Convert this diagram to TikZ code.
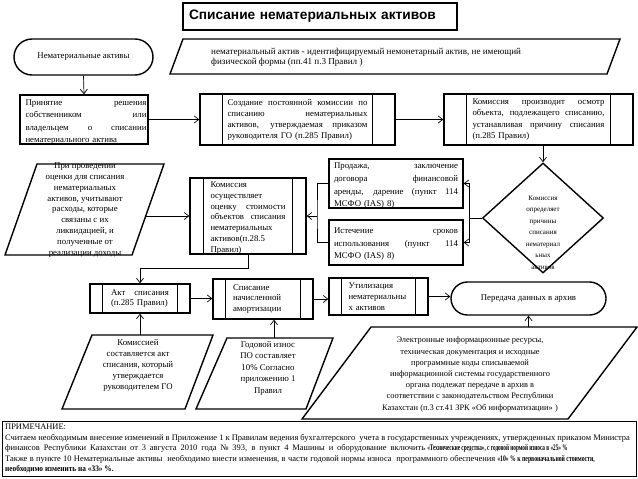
\documentclass[tikz,border=0pt]{standalone}
\usepackage{fontspec}
\setmainfont{Liberation Serif}
\newfontfamily\titlefont{Liberation Sans}
\usetikzlibrary{arrows.meta,shapes.geometric}
\newcommand\jl[2]{{\spaceskip=0pt\xspaceskip=0pt\makebox[#1pt][s]{#2}}}
\newcommand\fs[2]{\fontsize{#1}{#2}\selectfont}
\newcommand\ppl[2]{%
  \draw[boxline] ([xshift=#2]#1.north west) -- ([xshift=#2]#1.south west);
  \draw[boxline] ([xshift=-#2]#1.north east) -- ([xshift=-#2]#1.south east);}
\newcommand\cb[2]{\scalebox{#1}[1]{\textbf{#2}}}
\begin{document}
\begin{tikzpicture}[x=1pt,y=-1pt,
  boxline/.style={line width=1.4pt},
  box/.style={draw, line width=1.4pt, inner sep=0pt, align=left},
  term/.style={draw, line width=1.4pt, inner sep=0pt, rounded corners=#1},
  pline/.style={line width=1.4pt},
  txt/.style={inner sep=0pt},
  arr/.style={line width=0.7pt, -{Straight Barb[length=4.5pt,width=7pt]}},
  conn/.style={line width=0.7pt}]
\useasboundingbox (0,0) rectangle (638,479);

% title
\node[draw, line width=1.6pt, minimum width=274pt, minimum height=27pt, text width=262pt,
  align=left, inner sep=6pt, font=\titlefont\bfseries\fs{13.7}{15}] (title) at (320,16.5)
  {Списание нематериальных активов};

% row 1
\node[term=18pt, minimum width=139pt, minimum height=36pt, font=\fs{8.8}{10}] (na) at (83.5,57)
  {Нематериальные активы};
\draw[pline] (183,39) -- (620,39) -- (607,74) -- (170,74) -- cycle;
\node[txt, anchor=west, align=left, font=\fs{9.1}{10.5}] (def) at (211,57.5)
  {нематериальный актив - идентифицируемый немонетарный актив, не имеющий\\физической формы (пп.41 п.3 Правил )};

% row 2
\node[box, minimum width=128pt, minimum height=49pt] (pr) at (84,119.5) {};
\node[txt, text width=121pt, align=left, font=\fs{8.8}{12.3}] (prt) at ([xshift=2pt,yshift=-2.5pt]pr.center)
  {\jl{121}{Принятие решения}\\\jl{121}{собственником или}\\\jl{121}{владельцем о списании}\\нематериального актива};
\node[box, minimum width=195pt, minimum height=51pt, text width=140pt, font=\fs{8.8}{11}] (cr) at (297.5,119.5)
  {\jl{140}{Создание постоянной комиссии по}\\\jl{140}{списанию нематериальных}\\\jl{140}{активов, утверждаемая приказом}\\руководителя ГО (п.285 Правил)};
\ppl{cr}{23}
\node[box, minimum width=189pt, minimum height=51pt, text width=132pt, font=\fs{8.8}{11.5}] (kp) at (538.5,119.5)
  {\jl{132}{Комиссия производит осмотр}\\\jl{132}{объекта, подлежащего списанию,}\\\jl{132}{устанавливая причину списания}\\(п.285 Правил)};
\ppl{kp}{23}

% row 3
\draw[pline] (37,164) -- (164,164) -- (132,255) -- (5,255) -- cycle;
\node[txt, align=center, font=\fs{8.8}{10.8}] (lp) at (85,210)
  {При проведении\\оценки для списания\\нематериальных\\активов, учитывают\\расходы, которые\\связаны с их\\ликвидацией, и\\полученные от\\реализации доходы};
\coordinate (lpR) at (146,216);
\node[box, minimum width=116pt, minimum height=76pt] (ko) at (248,216) {};
\node[txt, text width=75pt, align=left, font=\fs{8.8}{10.8}] (kot) at ([yshift=-2pt]ko.center)
  {Комиссия\\осуществляет\\\jl{75}{оценку стоимости}\\\jl{75}{объектов списания}\\нематериальных\\активов(п.28.5\\Правил)};
\ppl{ko}{14}
\node[box, minimum width=134pt, minimum height=49pt] (pd) at (396,183.5) {};
\node[txt, text width=124pt, align=left, font=\fs{8.8}{12.7}] (pdt) at ([yshift=-2.5pt]pd.center)
  {\jl{124}{Продажа, заключение}\\\jl{124}{договора финансовой}\\\jl{124}{аренды, дарение (пункт 114}\\МСФО (IAS) 8)};
\node[box, minimum width=134pt, minimum height=45pt] (is) at (396,242.5) {};
\node[txt, text width=124pt, align=left, font=\fs{8.8}{12.5}] (ist) at ([yshift=-2pt]is.center)
  {\jl{124}{Истечение сроков}\\\jl{124}{использования (пункт 114}\\МСФО (IAS) 8)};
\node[diamond, draw, line width=1.4pt, minimum width=121pt, minimum height=110pt, inner sep=0pt] (dia) at (543,218) {};
\node[txt, align=center, font=\fs{7}{11.5}] (diat) at (543,232.5)
  {Комиссия\\определяет\\причины\\списания\\нематериал\\ьных\\активов};

% row 4
\node[box, minimum width=100pt, minimum height=29pt, text width=58pt, font=\fs{8.8}{10}] (ak) at (140,298.5)
  {\jl{58}{Акт списания}\\(п.285 Правил)};
\ppl{ak}{13}
\node[box, minimum width=100pt, minimum height=40pt, text width=60pt, font=\fs{8.8}{10.5}] (sn) at (263,299)
  {Списание\\начисленной\\амортизации};
\ppl{sn}{13}
\node[box, minimum width=99pt, minimum height=37pt, text width=60pt, font=\fs{8.8}{10.8}] (ut) at (378.5,296.5)
  {Утилизация\\нематериальны\\х активов};
\ppl{ut}{13}
\node[term=16.5pt, minimum width=155pt, minimum height=33pt, font=\fs{8.8}{10}] (pa) at (528.5,298.5)
  {Передача данных в архив};

% row 5
\draw[pline] (92,335) -- (213,335) -- (185,409) -- (62,409) -- cycle;
\node[txt, align=center, font=\fs{8.8}{11}] (p1) at (138,365)
  {Комиссией\\составляется акт\\списания, который\\утверждается\\руководителем ГО};
\coordinate (p1t) at (140,335);
\draw[pline] (227,338) -- (333,338) -- (306,409) -- (196,409) -- cycle;
\node[txt, align=center, font=\fs{8.8}{11.5}] (p2) at (268,368)
  {Годовой износ\\ПО составляет\\10\% Согласно\\приложению 1\\Правил};
\coordinate (p2t) at (274,338);
\draw[pline] (371,327) -- (637,327) -- (568,419) -- (302,419) -- cycle;
\node[txt, align=center, font=\fs{8.4}{11.2}] (p3) at (470,374.5)
  {Электронные информационные ресурсы,\\техническая документация и исходные\\программные коды списываемой\\информационной системы государственного\\органа подлежат передаче в архив в\\соответствии с законодательством Республики\\Казахстан (п.3 ст.41 ЗРК «Об информатизации» )};
\coordinate (p3t) at (528.5,327);

% note
\node[draw, line width=1pt, minimum width=634pt, minimum height=55pt, inner sep=0pt] (note) at (319,448.5) {};
\node[txt, anchor=west, align=left, font=\fs{8.45}{10.5}] (notet) at (5,448.5)
  {ПРИМЕЧАНИЕ:\\
  Считаем необходимым внесение изменений в Приложение 1 к Правилам ведения бухгалтерского\ \ учета в государственных учреждениях, утвержденных приказом Министра\\
  \makebox[420pt][s]{финансов Республики Казахстан от 3 августа 2010 года № 393, в пункт 4 Машины и оборудование включить}\ \cb{0.62}{«Технические средства», с годовой нормой износа в «25» \%}\\
  \makebox[490pt][s]{Также в пункте 10 Нематериальные активы\ \ необходимо внести изменения, в части годовой нормы износа\ \ программного обеспечения}\ \cb{0.68}{«10» \% к первоначальной стоимости,}\\
  \cb{0.87}{необходимо изменить на «33» \%.}};

% connectors
\draw[arr] (na.south) -- (pr.north);
\draw[arr] (pr.east) -- (pr.east -| cr.west);
\draw[arr] (cr.east) -- (cr.east -| kp.west);
\draw[arr] (kp.south -| dia.north) -- (dia.north);
\draw[conn] (dia.west) -- ++(-12,0) coordinate (jR);
\draw[arr] (jR) |- (pd.east);
\draw[arr] (jR) |- (is.east);
\coordinate (jL) at (317,216);
\draw[conn] (pd.west) -| (jL) |- (is.west);
\draw[arr] (jL) -- (ko.east);
\draw[arr] (lpR) -- (ko.west);
\draw[arr] (ko.south) -- ++(0,14) -| (ak.north);
\draw[arr] (ak.east) -- (ak.east -| sn.west);
\draw[arr] (sn.east) -- (sn.east -| ut.west);
\draw[arr] (ut.east) -- (ut.east -| pa.west);
\draw[arr] (p1t) -- (ak.south);
\draw[arr] (p2t) -- (p2t |- sn.south);
\draw[arr] (p3t) -- (pa.south);
\end{tikzpicture}
\end{document}
